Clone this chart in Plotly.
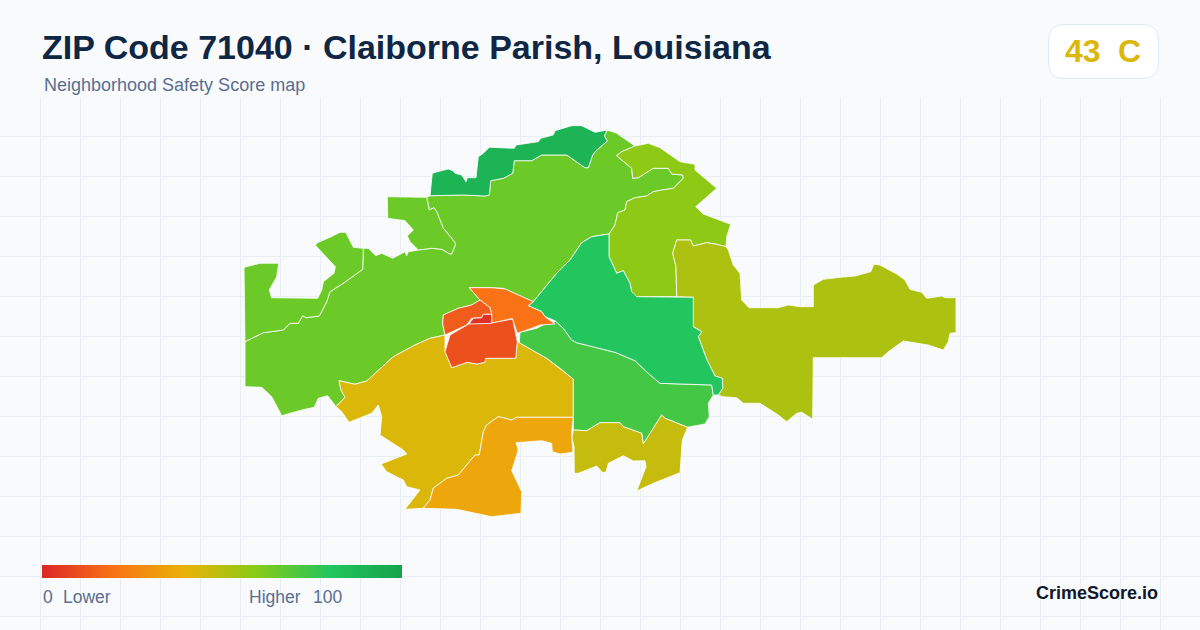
import plotly.graph_objects as go
from plotly.colors import sample_colorscale

W, H = 1200, 630
GRID_TOP = 96.5

TITLE = "ZIP Code 71040 · Claiborne Parish, Louisiana"
SUBTITLE = "Neighborhood Safety Score map"
OVERALL_SCORE = "43"
OVERALL_GRADE = "C"

SCORE_STOPS = [0.0, 0.2, 0.4, 0.6, 0.8, 1.0]
SCORE_COLORS = ["#dc2626", "#f97316", "#eab308", "#84cc16", "#22c55e", "#16a34a"]
SCALE = [list(p) for p in zip(SCORE_STOPS, SCORE_COLORS)]

# shared borders between zip tracts
dark_lime = [(430, 195.7), (463.3, 195), (485, 196), (489.3, 195), (490.7, 180.7), (503.3, 178.3),
             (512.7, 173.3), (514.3, 160.7), (531.7, 160.7), (541.7, 155), (566.7, 155), (578.3, 163.3),
             (585, 167.7), (588.3, 167.7), (592.7, 155), (596, 150.7), (607.3, 141), (604.3, 136), (607.3, 130)]
ne_lime = [(635, 146), (621.7, 151.7), (616.7, 155.7), (621.7, 160), (631.7, 168.3), (632.7, 178.3),
           (638.3, 177.7), (653.3, 168.3), (668.3, 168.3), (671.7, 174), (682.7, 175), (683.3, 178.3),
           (673.3, 188.3), (661.7, 190), (653.3, 191.7), (646.7, 196), (635, 197.7), (626.7, 201.7),
           (625, 210), (617.7, 212.7), (615, 225), (609, 234)]
teal_lime = [(609, 234), (591.7, 236.7), (581.7, 242.7), (570, 260), (556.7, 273.3), (533.3, 301.7)]
west_line = [(245, 341.7), (263.3, 332.7), (283.3, 330), (290, 323.3), (298.3, 323.3), (302.7, 315.7),
             (306, 317.7), (319.3, 316), (326.7, 301.7), (330, 291.7), (343.3, 283.3), (362.7, 269.3), (363.3, 248.3)]
lobe_line = [(418.3, 250), (431.7, 248.3), (441.7, 249.3), (450, 254), (451.7, 254), (455.7, 244),
             (451.7, 238.3), (443.3, 228.3), (436.7, 211.7), (434, 207.7), (429.3, 210), (426.7, 197.3)]
yellow_lime = [(336, 406.7), (345, 397.3), (341, 390), (339, 380.7), (355, 384.3), (366.7, 381),
               (373.3, 375), (393.3, 356.7), (415, 345), (430, 338.3), (445, 335)]
yellow_center = [(445, 335), (445, 351.7), (451.7, 367.7), (467.3, 362.3), (476.7, 364), (485, 362.3),
                 (485.7, 358.3), (515.7, 358.3), (517.3, 341.7)]
yellow_mid = [(519.3, 342.7), (546.7, 358.3), (560, 368.3), (573.3, 379), (573.3, 417.3)]
yellow_amber = [(573.3, 417.3), (516.7, 417.3), (511.7, 420), (498.3, 416.7), (486.7, 425), (483.3, 431.7),
                (479.3, 455), (475, 455), (458.3, 475), (446.7, 478.3), (433.3, 488.3), (430, 500), (423.3, 508.3)]
mid_teal = [(713.3, 395), (711.7, 385), (660, 383.3), (648.3, 373.3), (635, 360.7), (615, 352.3),
            (576.7, 342.7), (571.7, 340), (563.3, 328.3), (555, 320.7)]
teal_ne = [(609, 234), (609, 256.7), (616.7, 273.3), (623.3, 270.7), (630, 283.3), (631.7, 291.7),
           (636.7, 296.7), (676.7, 296.7)]
teal_east = [(676.7, 296.7), (693.3, 297.3), (693.3, 326.7), (701.7, 331.7), (698.3, 336.7), (703.3, 350),
             (706.7, 359.3), (715, 376), (722.3, 378.3), (722.7, 388.3), (718.3, 395)]
ne_east = [(726, 246.7), (716.7, 244.3), (706.7, 242.7), (693.3, 246), (690.7, 240), (676.7, 240),
           (672.7, 253.3), (676, 266.7), (676.7, 296.7)]
mid_olive = [(573.3, 430), (586.7, 430.7), (600, 422.7), (620, 422.7), (623.3, 426.7), (641.7, 433.3),
             (643.3, 444), (661.7, 415), (665, 418.3), (687.7, 427.3)]

north_coast = [(430, 195.7), (432.3, 173.3), (440, 171), (448.3, 169), (453.3, 171), (455, 173.3), (461.7, 175),
               (466, 181.7), (467.3, 177.7), (476, 177.7), (478.3, 156.7), (483.3, 153.3), (489.3, 147.3),
               (514.3, 148.3), (516, 145), (538.3, 141.7), (540.7, 138.3), (553.3, 135), (555, 130.7),
               (571.7, 125.7), (581.7, 125.7), (586.7, 128.3), (595, 132.3), (607.3, 130)]
lime_coast_ne = [(607.3, 130), (616.7, 133.3), (635, 146)]
lime_center = [(533.3, 301.7), (503.3, 288.3), (491.7, 287.7), (469.3, 287.7), (480, 300), (471.7, 305),
               (458.3, 308.3), (443.3, 315), (442.7, 324.3), (445, 335)]
lime_south = [(336, 406.7), (327.7, 395.7), (318.3, 398.3), (314.3, 407.3), (301.7, 410), (281.7, 415.7),
              (271.7, 396.7), (261.7, 387.3), (245, 386.7)]
lime_north_gap = [(363.3, 248.3), (368.3, 248.3), (375.7, 255.7), (381.7, 253.3), (392.7, 258.3), (405, 251.7),
                  (406.7, 255.7), (408.3, 251.7), (418.3, 250)]
west_coast = [(363.3, 248.3), (353.3, 247.3), (345.7, 232.3), (340, 232.3), (330, 237.3), (317.3, 242.7),
              (315.3, 245.3), (335.3, 266.7), (334, 273.3), (323.3, 281.7), (321.7, 290), (317.7, 298.3),
              (271.7, 297.7), (269.3, 290), (276.7, 276.7), (278.7, 263.3), (260, 263.3), (244, 267.3)]
lobe_coast = [(426.7, 197.3), (387.3, 196.7), (387.7, 218.3), (405, 220.7), (413.3, 230), (407.3, 236),
              (410, 241.7), (418.3, 250)]
ne_coast = [(635, 146), (648.3, 143.3), (660, 147.7), (680, 161.7), (695, 164.3), (695, 170), (716.7, 188.3),
            (695.7, 206.7), (703.3, 214), (730.7, 224.3), (726.7, 236.7), (726, 246.7)]
east_coast = [(726, 246.7), (728.3, 250), (733.3, 265), (740, 273.3), (741.7, 300), (749, 307.7), (778.3, 307.7),
              (788.3, 305), (800, 306.7), (813.3, 306.7), (813.3, 285), (823.3, 279.3), (840, 277.3), (855, 276),
              (870.7, 271.7), (874, 264.3), (880, 265), (896.7, 274), (905, 280), (910, 289.3), (921.7, 292.3),
              (926.7, 298.3), (941.7, 296), (945, 297.7), (956, 297.7), (956, 332.7), (950, 333.3), (948.3, 341.7),
              (943.3, 350), (928.3, 345), (903.3, 341), (888.3, 351.7), (881.7, 357.7), (813.3, 357.7),
              (812.7, 419.3), (801.7, 412.3), (796.7, 413.3), (786.7, 421.7), (778.3, 415), (760, 403.3),
              (743.3, 403.3), (736.7, 397.7), (722.3, 396.7), (718.3, 395)]
yellow_coast = [(423.3, 508.3), (405, 509.3), (420, 490), (406.7, 486.7), (403.3, 480), (386.7, 471.7), (381, 464),
                (393.3, 459), (406.7, 454), (403.3, 450), (380, 435), (381.7, 416.7), (378.3, 405), (371.7, 413.3),
                (349, 422.3), (341.7, 411.7), (336, 406.7)]
amber_coast = [(423.3, 508.3), (456.7, 509.3), (491.7, 516.7), (521, 513.3), (521.7, 491.7), (511.7, 470.7),
               (518.3, 450), (516, 442.7), (541.7, 440.7), (551.7, 443.3), (552.3, 451.7), (560, 454),
               (572.7, 452.3), (571.7, 431.7), (573.3, 417.3)]
mid_coast = [(687.7, 427.3), (690, 426.7), (705, 424), (709.3, 416.7), (708.3, 403.3), (713.3, 395)]
mid_top = [(555, 320.7), (553.3, 323.3), (545, 324), (536.7, 328.3), (520, 332.3), (519.3, 342.7)]
olive_coast = [(573.3, 430), (572, 438), (574, 446.7), (574.3, 473.3), (578.3, 473.3), (596.7, 466), (602.3, 472.3),
               (606, 472.3), (608.3, 463.3), (623.3, 455.7), (633.3, 461), (645, 460.7), (646, 466.7), (636.7, 491),
               (653.3, 483.3), (680, 472.7), (682.3, 440), (687.7, 427.3)]
orange_ring = [(533.3, 301.7), (528.3, 305.7), (541.7, 311.7), (545, 316.7), (555, 324), (540, 325), (531.7, 328.3),
               (519.3, 332.7), (517.3, 333.3), (512.3, 318.5), (491.7, 323.3), (491.7, 314.3), (490, 307.7),
               (480, 300), (469.3, 287.7), (491.7, 287.7), (505, 289)]
left_ring = [(480, 300), (471.7, 305), (458.3, 308.3), (443.3, 315), (442.7, 324.3), (445, 335), (466.7, 325),
             (471.7, 318.3), (481.7, 317.7), (483.3, 314.3), (491.7, 314.3), (490, 307.7)]
red_tract = [(469, 324), (473.3, 318.3), (481.7, 317.7), (483.3, 314.3), (491.7, 314.3), (491.7, 323.3)]
center_tract = [(450, 335), (445, 351.7), (451.7, 367.7), (467.3, 362.3), (476.7, 364), (485, 362.3), (485.7, 358.3),
                (515.7, 358.3), (517.3, 341.7), (512.7, 319), (493.3, 322.7), (470, 323.3)]

# tract scores, estimated from fill colour
score_west = 65
score_lime = 65
score_lobe = 65
score_north = 90
score_ne = 58
score_east = 52
score_teal = 80
score_mid = 73
score_yellow = 43
score_amber = 36
score_olive = 47
score_orange = 20
score_left = 14
score_center = 11
score_red = 3

tracts = [
    (score_lime, west_line + lime_north_gap[1:] + lobe_line[1:] + dark_lime + lime_coast_ne[1:] + ne_lime[1:]
     + teal_lime[1:] + lime_center[1:] + yellow_lime[::-1][1:] + lime_south[1:]),
    (score_west, west_line + west_coast[1:]),
    (score_lobe, lobe_line + lobe_coast[1:]),
    (score_north, north_coast + dark_lime[::-1][1:]),
    (score_ne, ne_coast + ne_east[1:] + teal_ne[::-1][1:] + ne_lime[::-1][1:]),
    (score_east, east_coast + teal_east[::-1][1:] + ne_east[::-1][1:]),
    (score_yellow, yellow_lime + yellow_center[1:] + yellow_mid + yellow_amber[1:] + yellow_coast[1:]),
    (score_amber, yellow_amber + amber_coast[1:]),
    (score_mid, yellow_mid + mid_olive + mid_coast[1:] + mid_teal[1:] + mid_top[1:]),
    (score_olive, mid_olive + olive_coast[::-1][1:]),
    (score_teal, teal_ne + teal_east[1:] + mid_teal + [(545, 316.7), (541.7, 311.7), (528.3, 305.7)] + teal_lime[::-1]),
    (score_orange, orange_ring),
    (score_left, left_ring),
    (score_center, center_tract),
    (score_red, red_tract),
]


def px_x(x):
    return x / W


def px_y(y):
    return 1 - y / H


def rounded_box(x0, y0, x1, y1, r):
    a, b, c, d = px_x(x0), px_x(x1), px_y(y0), px_y(y1)
    rx, ry = r / W, r / H
    return (f"M{a + rx},{c} L{b - rx},{c} Q{b},{c} {b},{c - ry} L{b},{d + ry} Q{b},{d} {b - rx},{d} "
            f"L{a + rx},{d} Q{a},{d} {a},{d + ry} L{a},{c - ry} Q{a},{c} {a + rx},{c} Z")


def label(text, x, y, size, color, bold=False, anchor="left"):
    fig.add_annotation(
        text=f"<b>{text}</b>" if bold else text,
        x=px_x(x), y=px_y(y), xref="paper", yref="paper",
        xanchor=anchor, yanchor="middle", showarrow=False,
        font=dict(family="Liberation Sans", size=size, color=color),
    )


fig = go.Figure()

for score, pts in tracts:
    fig.add_trace(go.Scatter(
        x=[p[0] for p in pts] + [pts[0][0]],
        y=[p[1] for p in pts] + [pts[0][1]],
        mode="lines", fill="toself",
        fillcolor=sample_colorscale(SCALE, score / 100)[0],
        line=dict(color="#ffffff", width=0.8),
        hoverinfo="skip", showlegend=False,
    ))

# only here for the colour ramp at the bottom left
fig.add_trace(go.Scatter(
    x=[None], y=[None], mode="markers", showlegend=False, hoverinfo="skip",
    marker=dict(
        color=[0], cmin=0, cmax=100, colorscale=SCALE, showscale=True,
        colorbar=dict(
            orientation="h", lenmode="pixels", len=360, thicknessmode="pixels", thickness=13,
            x=px_x(42), xanchor="left", y=px_y(565), yanchor="top", xpad=0, ypad=0,
            outlinewidth=0, borderwidth=0, showticklabels=False, ticks="",
        ),
    ),
))

fig.update_layout(
    width=W, height=H, autosize=False,
    margin=dict(l=0, r=0, t=0, b=0),
    paper_bgcolor="#f8fafc", plot_bgcolor="#f8fafc",
    xaxis=dict(range=[0, W], domain=[0, 1], tick0=0, dtick=40, showgrid=True, gridcolor="#e8eef4", gridwidth=1,
               zeroline=False, showticklabels=False, ticks="", fixedrange=True),
    yaxis=dict(range=[H, GRID_TOP], domain=[0, 1 - GRID_TOP / H], tick0=GRID_TOP, dtick=40, showgrid=True,
               gridcolor="#e8eef4", gridwidth=1, zeroline=False, showticklabels=False, ticks="", fixedrange=True),
    shapes=[dict(type="path", path=rounded_box(1048.5, 24.5, 1158.5, 78.5, 16), xref="paper", yref="paper",
                 fillcolor="#ffffff", line=dict(color="#e2e8f0", width=1))],
)

badge_color = sample_colorscale(SCALE, int(OVERALL_SCORE) / 100)[0]
label(TITLE, 40, 47, 34, "#0f2744", bold=True)
label(SUBTITLE, 42, 85, 18, "#5a6f8f")
label(OVERALL_SCORE, 1063, 51, 32, badge_color, bold=True)
label(OVERALL_GRADE, 1116, 51, 32, badge_color, bold=True)
label("0", 40.5, 597, 17.5, "#5a6f8f")
label("Lower", 61, 597, 17.5, "#5a6f8f")
label("Higher", 247, 597, 17.5, "#5a6f8f")
label("100", 311, 597, 17.5, "#5a6f8f")
label("CrimeScore.io", 1160, 593, 18, "#0f172a", bold=True, anchor="right")

# no page margin, the picture has to start at the window corner
fig.write_html("out.html", config={"displayModeBar": False}, post_script="document.body.style.margin = '0';")
